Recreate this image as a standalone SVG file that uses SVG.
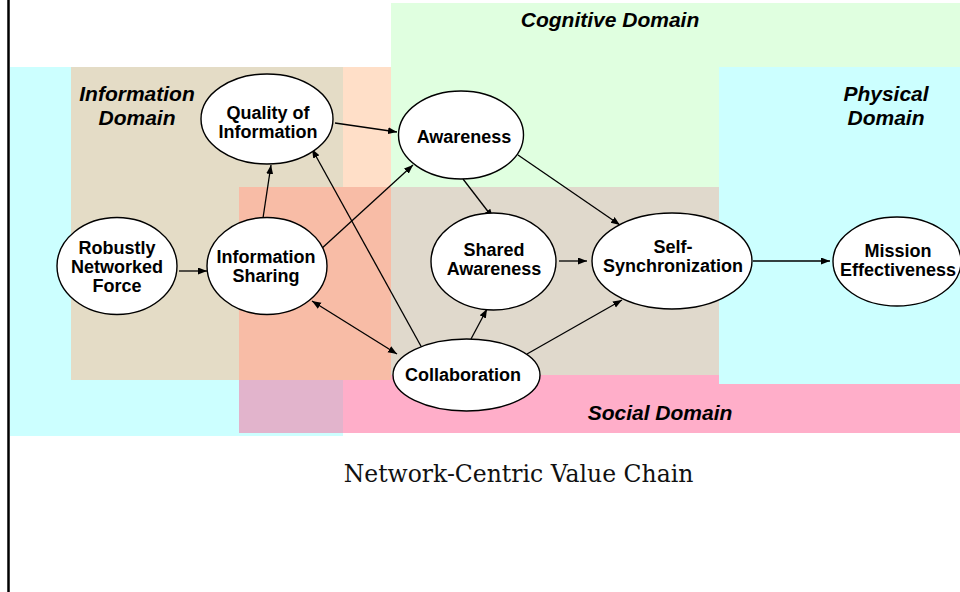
<svg xmlns="http://www.w3.org/2000/svg" width="960" height="592" viewBox="0 0 960 592">
<defs>
<marker id="ah" markerUnits="userSpaceOnUse" markerWidth="10" markerHeight="8" refX="9" refY="3.5" orient="auto-start-reverse">
<path d="M0,0 L9,3.5 L0,7 z" fill="#000"/>
</marker>
<style>
.node ellipse{fill:#fff;stroke:#000;stroke-width:1.4}
.node text{font-family:"Liberation Sans",Arial,sans-serif;font-weight:bold;font-size:18px;fill:#000;text-anchor:middle}
.dom{font-family:"Liberation Sans",Arial,sans-serif;font-weight:bold;font-style:italic;font-size:21px;fill:#000;text-anchor:middle}
#edges line{stroke:#000;stroke-width:1.3;marker-end:url(#ah)}
</style>
</defs>
<rect width="960" height="592" fill="#fff"/>
<g id="domains">
<rect x="10" y="67" width="333" height="369" fill="#ccffff"/>
<rect x="391" y="3" width="569" height="372" fill="#e0ffe0"/>
<rect x="71" y="67" width="272" height="313" fill="#e4dcc6"/>
<rect x="343" y="67" width="48" height="120" fill="#ffdfc8"/>
<rect x="239" y="187" width="721" height="246" fill="#ffaec9"/>
<rect x="239" y="187" width="152" height="193" fill="#f8bca6"/>
<rect x="391" y="187" width="328" height="188" fill="#e0d9cc"/>
<rect x="239" y="380" width="104" height="53" fill="#e2b4cc"/>
<rect x="719" y="67" width="241" height="317" fill="#ccffff"/>
</g>
<line x1="8.5" y1="0" x2="8.5" y2="592" stroke="#000" stroke-width="2.5"/>
<g id="domain-labels">
<text class="dom" x="610" y="27">Cognitive Domain</text>
<text class="dom" x="137" y="101">Information</text>
<text class="dom" x="137" y="125">Domain</text>
<text class="dom" x="886" y="101">Physical</text>
<text class="dom" x="886" y="125">Domain</text>
<text class="dom" x="660" y="420">Social Domain</text>
</g>
<g id="edges">
<line x1="179" y1="271" x2="207" y2="271"/>
<line x1="263" y1="218" x2="271" y2="165"/>
<line x1="335" y1="123" x2="397" y2="132"/>
<line x1="320" y1="250" x2="413" y2="165"/>
<line x1="422" y1="348" x2="312" y2="149"/>
<line x1="312" y1="301" x2="397" y2="354" style="marker-start:url(#ah)"/>
<line x1="463" y1="179" x2="493" y2="218"/>
<line x1="518" y1="155" x2="620" y2="225"/>
<line x1="559" y1="261" x2="587" y2="261"/>
<line x1="471" y1="339" x2="487" y2="309"/>
<line x1="527" y1="354" x2="622" y2="300"/>
<line x1="753" y1="261" x2="830" y2="261"/>
</g>
<g id="n-robust" class="node">
<ellipse cx="117" cy="266" rx="60" ry="48.5"/>
<text x="117" y="254">Robustly</text>
<text x="117" y="273">Networked</text>
<text x="117" y="292">Force</text>
</g>
<g id="n-sharing" class="node">
<ellipse cx="267" cy="266" rx="60" ry="48.5"/>
<text x="266" y="263">Information</text>
<text x="266" y="282">Sharing</text>
</g>
<g id="n-quality" class="node">
<ellipse cx="267" cy="119" rx="66" ry="45"/>
<text x="268" y="119">Quality of</text>
<text x="268" y="138">Information</text>
</g>
<g id="n-awareness" class="node">
<ellipse cx="461" cy="135" rx="62.5" ry="44"/>
<text x="464" y="143">Awareness</text>
</g>
<g id="n-shared" class="node">
<ellipse cx="493.5" cy="261.5" rx="62.5" ry="48.5"/>
<text x="494" y="256">Shared</text>
<text x="494" y="275">Awareness</text>
</g>
<g id="n-selfsync" class="node">
<ellipse cx="672" cy="261" rx="80" ry="48"/>
<text x="673" y="253">Self-</text>
<text x="673" y="272">Synchronization</text>
</g>
<g id="n-mission" class="node">
<ellipse cx="897" cy="261.5" rx="64" ry="44.5"/>
<text x="898" y="257">Mission</text>
<text x="898" y="276">Effectiveness</text>
</g>
<g id="n-collab" class="node">
<ellipse cx="466.5" cy="375" rx="73.5" ry="36"/>
<text x="463" y="381">Collaboration</text>
</g>
<text x="518.5" y="482" font-family="'DejaVu Serif','Liberation Serif',serif" font-size="23.5" text-anchor="middle" fill="#111">Network-Centric Value Chain</text>
</svg>
